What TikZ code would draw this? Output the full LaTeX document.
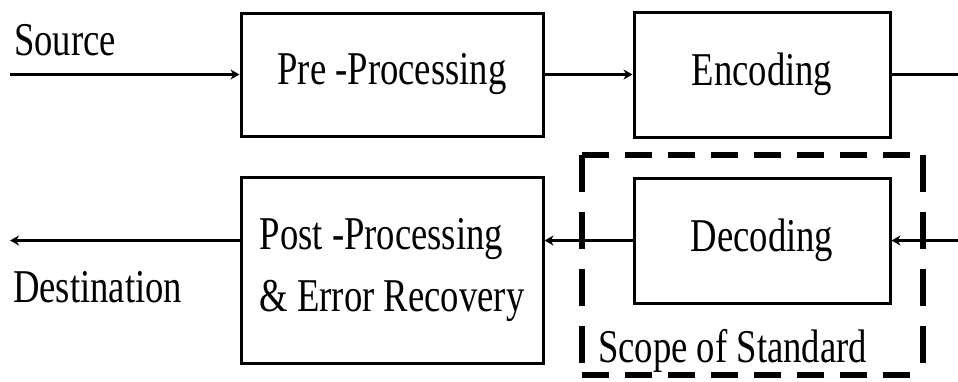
\documentclass[tikz,border=0pt]{standalone}
\usepackage{fontspec}
\setmainfont{Liberation Serif}[FakeStretch=0.78]
\usetikzlibrary{arrows.meta}
\begin{document}
\begin{tikzpicture}[x=1pt,y=-1pt,
  txt/.style={font=\fontsize{47}{62}\selectfont},
  blk/.style={draw, line width=3pt, inner sep=0pt, txt},
  conn/.style={line width=3pt, -{Stealth[length=9pt,width=10pt]}},
  plain/.style={line width=3pt},
  lbl/.style={txt, inner sep=0pt, anchor=base west},
  scopeh/.style={line width=5.5pt, dash pattern=on 27pt off 16pt},
  scopev/.style={line width=5.5pt, dash pattern=on 37pt off 20pt}]
\useasboundingbox (0,0) rectangle (958,381);
% blocks
\node[blk, minimum width=302pt, minimum height=123pt] (pre) at (392,74.5) {Pre -Processing};
\node[blk, minimum width=256pt, minimum height=125pt] (enc) at (762,74.5) {Encoding};
\node[blk, minimum width=302pt, minimum height=186pt, align=left] (post) at (392,270) {Post -Processing\\ \& Error Recovery};
\node[blk, minimum width=256pt, minimum height=125pt] (dec) at (762,240.5) {Decoding};
% free ends
\coordinate (src) at (10,74.5);
\coordinate (encout) at (958,74.5);
\coordinate (decin) at (958,240.5);
\coordinate (dest) at (10,240.5);
% labels
\node[lbl] (srclbl) at (14,55) {Source};
\node[lbl] (destlbl) at (13,302) {Destination};
\node[lbl] (scopelbl) at (598,362) {Scope of Standard};
% connectors
\draw[conn] (src) -- (pre);
\draw[conn] (pre) -- (enc);
\draw[plain] (enc) -- (encout);
\draw[conn] (decin) -- (dec);
\draw[conn] (dec.west) -- (dec.west -| post.east);
\draw[conn] (post.west |- dec.west) -- (dest);
% scope of standard (dashed box)
\coordinate (s1) at (582,155);
\coordinate (s2) at (923,375);
\draw[scopeh] (s1) -- (s1 -| s2);
\draw[scopeh] (s1 |- s2) -- (s2);
\draw[scopev] (s1) -- (s1 |- s2);
\draw[scopev] (s1 -| s2) -- (s2);
\end{tikzpicture}
\end{document}
